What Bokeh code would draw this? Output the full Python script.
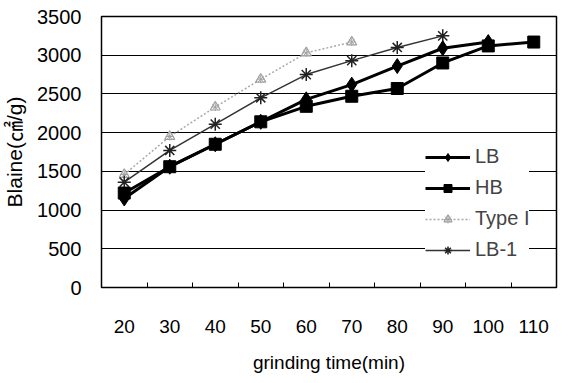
from bokeh.plotting import figure
from bokeh.models import FixedTicker, Legend, LegendItem
from bokeh.embed import file_html
from bokeh.resources import INLINE

categories = [20, 30, 40, 50, 60, 70, 80, 90, 100, 110]
x_labels = {c: str(c) for c in categories}
y_ticks = [0, 500, 1000, 1500, 2000, 2500, 3000, 3500]

lb_x = [20, 30, 40, 50, 60, 70, 80, 90, 100]
lb_y = [1150, 1560, 1850, 2140, 2430, 2620, 2860, 3090, 3170]

hb_x = [20, 30, 40, 50, 60, 70, 80, 90, 100, 110]
hb_y = [1220, 1560, 1850, 2140, 2340, 2470, 2570, 2900, 3120, 3170]

t1_x = [20, 30, 40, 50, 60, 70]
t1_y = [1460, 1950, 2330, 2690, 3030, 3170]

lb1_x = [20, 30, 40, 50, 60, 70, 80, 90]
lb1_y = [1360, 1770, 2110, 2450, 2750, 2930, 3100, 3250]

FONT = "Liberation Sans, Noto Sans CJK KR, sans-serif"

p = figure(width=563, height=375, output_backend="svg", toolbar_location=None,
           x_range=(15, 115), y_range=(0, 3500),
           min_border_left=97, min_border_right=7, min_border_top=16, min_border_bottom=84)

p.outline_line_color = "black"
p.outline_line_width = 1.5
p.xgrid.grid_line_color = None
p.ygrid.grid_line_color = "black"
p.ygrid.grid_line_width = 1
p.ygrid.ticker = FixedTicker(ticks=y_ticks)

p.xaxis.ticker = FixedTicker(ticks=categories, minor_ticks=[c + 5 for c in categories[:-1]])
p.xaxis.major_label_overrides = x_labels
p.xaxis.major_tick_line_color = None
p.xaxis.minor_tick_line_color = "black"
p.xaxis.minor_tick_in = 5
p.xaxis.minor_tick_out = 0
p.xaxis.axis_line_color = "black"
p.xaxis.major_label_standoff = 26
p.xaxis.major_label_text_font = FONT
p.xaxis.major_label_text_font_size = "19px"
p.xaxis.major_label_text_color = "black"
p.xaxis.axis_label = "grinding time(min)"
p.xaxis.axis_label_text_font = FONT
p.xaxis.axis_label_text_font_size = "19px"
p.xaxis.axis_label_text_font_style = "normal"
p.xaxis.axis_label_text_color = "black"
p.xaxis.axis_label_standoff = 16

p.yaxis.ticker = FixedTicker(ticks=y_ticks)
p.yaxis.major_tick_line_color = None
p.yaxis.minor_tick_line_color = None
p.yaxis.axis_line_color = "black"
p.yaxis.major_label_standoff = 14
p.yaxis.major_label_text_font = FONT
p.yaxis.major_label_text_font_size = "20px"
p.yaxis.major_label_text_color = "black"
p.yaxis.axis_label = "Blaine(㎠/g)"
p.yaxis.axis_label_text_font = FONT
p.yaxis.axis_label_text_font_size = "21px"
p.yaxis.axis_label_text_font_style = "normal"
p.yaxis.axis_label_text_color = "black"
p.yaxis.axis_label_standoff = 8

r_t1l = p.line(t1_x, t1_y, line_color="#a8a8a8", line_width=1.5, line_dash="2 2")
r_t1m = p.scatter(t1_x, t1_y, marker="triangle", size=10, line_color="#a0a0a0",
                  fill_color="white", line_width=1.2)
r_t1a = p.scatter(t1_x, t1_y, marker="asterisk", size=8, line_color="#a0a0a0", line_width=1)

r_lb1l = p.line(lb1_x, lb1_y, line_color="#333333", line_width=1.5)
r_lb1m = p.scatter(lb1_x, lb1_y, marker="asterisk", size=13, line_color="#222222", line_width=1.5)

r_hbl = p.line(hb_x, hb_y, line_color="black", line_width=3)
r_hbm = p.scatter(hb_x, hb_y, marker="square", size=12, color="black")

r_lbl = p.line(lb_x, lb_y, line_color="black", line_width=3)
r_lbm = p.scatter(lb_x, lb_y, marker="diamond", size=15, color="black")

legend = Legend(items=[
    LegendItem(label="LB", renderers=[r_lbl, r_lbm]),
    LegendItem(label="HB", renderers=[r_hbl, r_hbm]),
    LegendItem(label="Type I", renderers=[r_t1l, r_t1m, r_t1a]),
    LegendItem(label="LB-1", renderers=[r_lb1l, r_lb1m]),
], location=(324, 26))
legend.background_fill_color = "white"
legend.background_fill_alpha = 1
legend.border_line_color = None
legend.label_text_font = FONT
legend.label_text_font_size = "20px"
legend.glyph_width = 45
legend.glyph_height = 20
legend.label_height = 20
legend.spacing = 8
legend.padding = 6
legend.margin = 0
p.add_layout(legend, "center")

open("out.html", "w").write(file_html(p, INLINE))
